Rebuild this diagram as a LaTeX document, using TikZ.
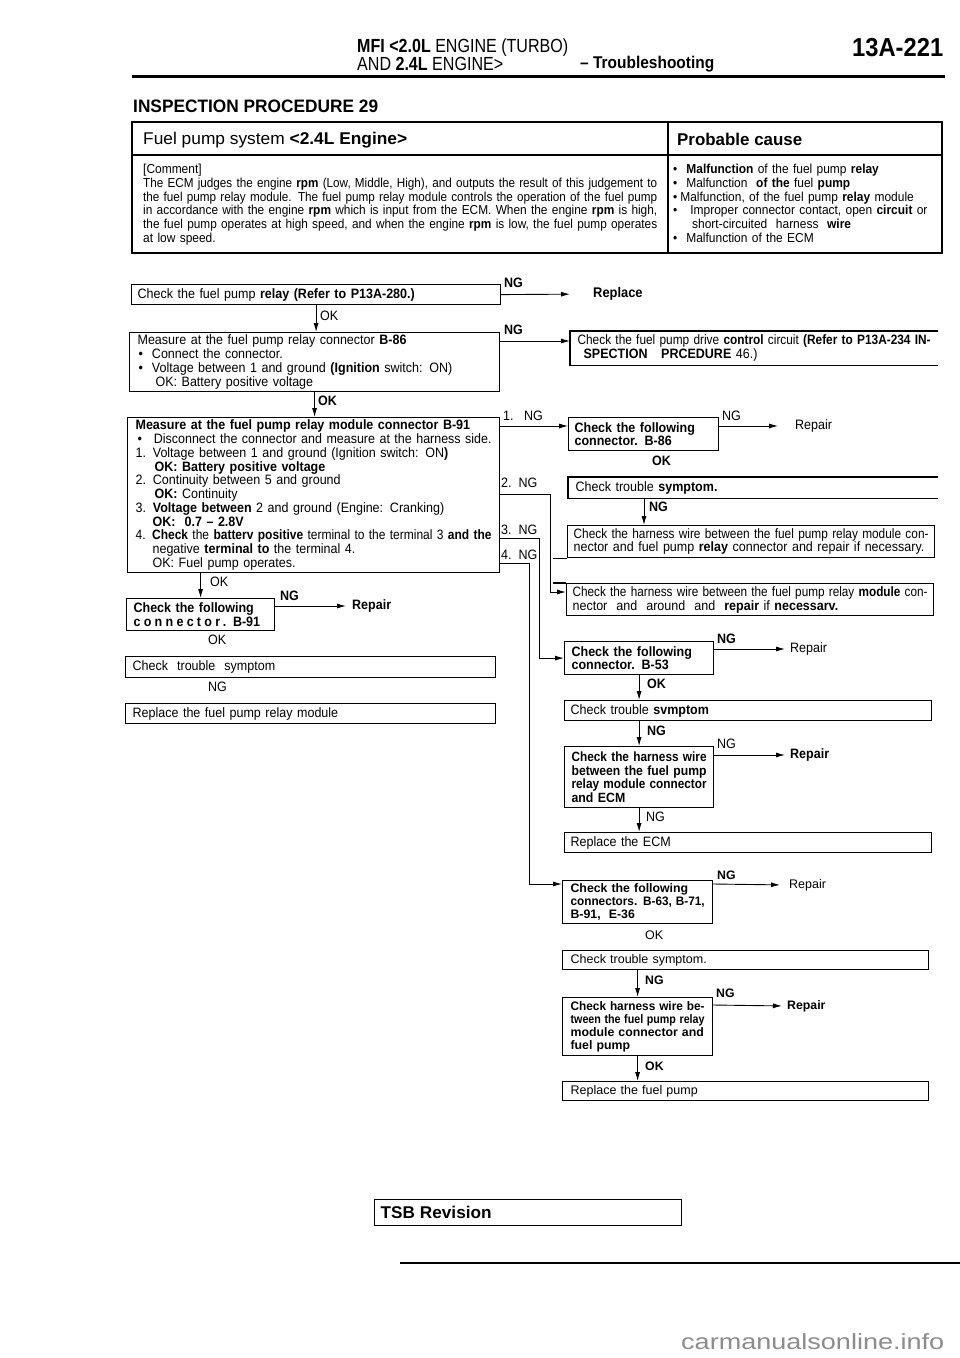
\documentclass[tikz,border=0pt]{standalone}
\usepackage{fontspec}
\usepackage{graphicx}
\setmainfont{Liberation Sans}[FakeStretch=0.92]
\newfontfamily\wideff{Liberation Sans}
\usetikzlibrary{arrows.meta}
\newsavebox\jbox
\newcommand\jl[1]{\sbox\jbox{#1}\ifdim\wd\jbox>\hsize\resizebox{\hsize}{\height}{#1}\else\makebox[\hsize][s]{#1}\fi}
\newcommand\fitw[2]{\resizebox{#1}{\height}{#2}}
\newcommand\bodyf{\fontsize{13.6}{13.75}\selectfont}
\newcommand\tabf{\fontsize{13}{13.75}\selectfont}
\newcommand\widef{\wideff\fontsize{12.5}{12.8}\selectfont}
\newcommand\widebf{\wideff\bfseries\fontsize{12.3}{12.9}\selectfont}
\begin{document}
\begin{tikzpicture}[x=1pt,y=-1pt,
  box/.style={draw, line width=1.2pt, anchor=north west, inner ysep=0pt, align=left, font=\bodyf,
    execute at begin node={\setlength{\parindent}{0pt}}},
  sz/.style n args={4}{minimum width=#1pt, minimum height=#2pt, inner xsep=#3pt, text width=#4pt},
  lbl/.style={anchor=west, inner sep=0pt, font=\bodyf},
  arr/.style={line width=0.9pt, -{Latex[length=9pt,width=5pt]}},
  rule/.style={line width=1.2pt}]
\fill[white] (0,0) rectangle (960,1358);
\useasboundingbox (0,0) rectangle (960,1358);

% ---------- header ----------
\node[anchor=west, inner sep=0pt] (h1) at (357,48) {\fitw{211pt}{\fontsize{19}{19}\selectfont\textbf{MFI <2.0L} ENGINE (TURBO)}};
\node[anchor=west, inner sep=0pt] (h2) at (357,64) {\fitw{146pt}{\fontsize{19}{19}\selectfont AND \textbf{2.4L} ENGINE>}};
\node[anchor=west, inner sep=0pt] (h3) at (580,64) {\fitw{134pt}{\fontsize{17}{17}\selectfont\bfseries – Troubleshooting}};
\node[anchor=west, inner sep=0pt] (h4) at (852,48) {\fitw{91pt}{\fontsize{26}{26}\selectfont\bfseries 13A-221}};
\draw[line width=3pt] (132,76) -- (945,76);
\node[anchor=west, inner sep=0pt] (ip) at (133,106) {\fitw{245pt}{\fontsize{18}{18}\selectfont\bfseries INSPECTION PROCEDURE 29}};

% ---------- table ----------
\draw[line width=1.8pt] (132,122) rectangle (942,253);
\draw[rule] (132,155) -- (942,155);
\draw[rule] (668,122) -- (668,253);
\node[anchor=west, inner sep=0pt] (tt) at (143,140) {\fitw{264pt}{\fontsize{17}{17}\selectfont Fuel pump system \textbf{<2.4L Engine>}}};
\node[anchor=west, inner sep=0pt] (pc) at (677,139) {\fitw{125pt}{\fontsize{17}{17}\selectfont\bfseries Probable cause}};
\node[anchor=north west, inner sep=0pt, text width=514pt, align=left, font=\tabf,
  execute at begin node={\setlength{\parindent}{0pt}}] (cmt) at (143,164) {%
[Comment]\\
\jl{The ECM judges the engine \textbf{rpm} (Low, Middle, High), and outputs the result of this judgement to}\\
\jl{the fuel pump relay module. The fuel pump relay module controls the operation of the fuel pump}\\
\jl{in accordance with the engine \textbf{rpm} which is input from the ECM. When the engine \textbf{rpm} is high,}\\
\jl{the fuel pump operates at high speed, and when the engine \textbf{rpm} is low, the fuel pump operates}\\
at low speed.};
\node[anchor=north west, inner sep=0pt, text width=261pt, align=left, font=\tabf,
  execute at begin node={\setlength{\parindent}{0pt}}] (cause) at (673,164) {%
\textbullet\hspace{9pt}\textbf{Malfunction} of the fuel pump \textbf{relay}\\
\textbullet\hspace{9pt}Malfunction\ \ \textbf{of the} fuel \textbf{pump}\\
\jl{\textbullet\hspace{3pt}Malfunction, of the fuel pump \textbf{relay} module}\\
\jl{\textbullet\hspace{13pt}Improper connector contact, open \textbf{circuit} or}\\
\hspace{19pt}short-circuited\ \ harness\ \ \textbf{wire}\\
\textbullet\hspace{9pt}Malfunction of the ECM};

% ---------- left column ----------
\node[box, sz={369}{20}{6}{357}] (b1) at (131,284) {Check the fuel pump \textbf{relay (Refer to P13A-280.)}};
\node[box, sz={370}{59}{8}{354}] (b2) at (129,332) {%
Measure at the fuel pump relay connector \textbf{B-86}\\
\hspace{1pt}\textbullet\hspace{9pt}Connect the connector.\\
\hspace{1pt}\textbullet\hspace{9pt}Voltage between 1 and ground \textbf{(Ignition} switch: ON)\\
\hspace{18pt}OK: Battery positive voltage};
\node[box, sz={372}{155}{8}{356}] (b3) at (127,417) {%
\textbf{Measure at the fuel pump relay module connector B-91}\\
\jl{\hspace{2pt}\textbullet\hspace{12pt}Disconnect the connector and measure at the harness side.}\\
1. Voltage between 1 and ground (Ignition switch: ON\textbf{)}\\
\hspace{19pt}\textbf{OK: Battery positive voltage}\\
2. Continuity between 5 and ground\\
\hspace{19pt}\textbf{OK:} Continuity\\
3. \textbf{Voltage between} 2 and ground (Engine: Cranking)\\
\hspace{17pt}\textbf{OK:\ \ 0.7 – 2.8V}\\
\jl{4. \textbf{Check} the \textbf{batterv positive} terminal to the terminal 3 \textbf{and the}}\\
\hspace{17pt}negative \textbf{terminal to} the terminal 4.\\
\hspace{17pt}OK: Fuel pump operates.};
\node[box, sz={148}{32}{7}{134}, font=\bodyf\bfseries] (c91) at (126,598) {%
\jl{Check the following}\\{\addfontfeatures{LetterSpace=24}connector.} B-91};
\node[box, sz={370}{21}{7}{356}] (ts2) at (125,656) {Check\ \ trouble\ \ symptom};
\node[box, sz={370}{20}{7}{356}] (rp1) at (125,703) {Replace the fuel pump relay module};

% ---------- right column ----------
\node[box, draw=none, sz={367}{33}{7}{353}] (drv) at (570,331) {%
\jl{Check the fuel pump drive \textbf{control} circuit \textbf{(Refer to P13A-234 IN-}}\\
\hspace{6pt}\textbf{SPECTION\ \ \ PRCEDURE} 46.)};
\draw[line width=1.2pt] (drv.north east) -- (drv.north west) -- (drv.south west) -- (drv.south east);
\node[box, sz={150}{33}{6}{138}, font=\bodyf\bfseries] (c86) at (568,417) {%
\jl{Check the following}\\connector. B-86};
\node[box, draw=none, sz={369}{20}{7}{355}] (ts1) at (568,477) {Check trouble \textbf{symptom.}};
\draw[line width=1.2pt] (ts1.north east) -- (ts1.north west) -- (ts1.south west) -- (ts1.south east);
\node[box, sz={367}{32}{6}{355}] (hw1) at (567,525) {%
\jl{Check the harness wire between the fuel pump relay module con-}\\
\jl{nector and fuel pump \textbf{relay} connector and repair if necessary.}};
\draw[line width=1.2pt] ([xshift=-14pt]hw1.south west) -- (hw1.south west);
\node[box, sz={367}{32}{6}{355}] (hw2) at (566,583) {%
\jl{Check the harness wire between the fuel pump relay \textbf{module} con-}\\
nector\ \ and\ \ around\ \ and\ \ \textbf{repair} if \textbf{necessarv.}};
\draw[line width=1.2pt] ([xshift=-13pt]hw2.north west) -- (hw2.north west);
\node[box, sz={149}{33}{7}{135}, font=\bodyf\bfseries] (c53) at (564,641) {%
\jl{Check the following}\\connector. B-53};
\node[box, sz={367}{20}{6}{355}] (ts3) at (564,700) {Check trouble \textbf{svmptom}};
\node[box, sz={149}{61}{7}{135}, font=\fontsize{13.4}{13.4}\selectfont\bfseries] (hwe) at (564,746) {%
\jl{Check the harness wire}\\\jl{between the fuel pump}\\\jl{relay module connector}\\and ECM};
\node[box, sz={367}{20}{6}{355}] (recm) at (564,832) {Replace the ECM};
\node[box, sz={150}{43}{8}{134}, font=\widebf] (c63) at (562,880) {%
\jl{Check the following}\\\jl{connectors. B-63, B-71,}\\B-91,\ \ E-36};
\node[box, sz={366}{19}{8}{350}, font=\widef] (ts4) at (562,950) {Check trouble symptom.};
\node[box, sz={150}{58}{8}{134}, font=\widebf] (hwp) at (562,997) {%
\jl{Check harness wire be-}\\\jl{tween the fuel pump relay}\\\jl{module connector and}\\fuel pump};
\node[box, sz={366}{19}{8}{350}, font=\widef] (rfp) at (562,1081) {Replace the fuel pump};

% ---------- labels ----------
\node[lbl, font=\bodyf\bfseries] (ng1) at (504,283) {NG};
\node[lbl, font=\fontsize{14}{14}\selectfont\bfseries] (rpl) at (593,294) {Replace};
\node[lbl] (ok1) at (320,316) {OK};
\node[lbl, font=\bodyf\bfseries] (ng2) at (504,330) {NG};
\node[lbl, font=\bodyf\bfseries] (ok2) at (318,401) {OK};
\node[lbl] (n1) at (503,416) {1.\ \ \ NG};
\node[lbl] (n2) at (501,483) {2.\ \ NG};
\node[lbl] (n3) at (501,530) {3.\ \ NG};
\node[lbl] (n4) at (501,555) {4.\ \ NG};
\node[lbl] (ng86) at (722,416) {NG};
\node[lbl] (r86) at (795,426) {Repair};
\node[lbl, font=\bodyf\bfseries] (ok86) at (652,461) {OK};
\node[lbl, font=\bodyf\bfseries] (ngts1) at (649,507) {NG};
\node[lbl] (ok3) at (210,582) {OK};
\node[lbl, font=\bodyf\bfseries] (ng91) at (280,596) {NG};
\node[lbl, font=\bodyf\bfseries] (r91) at (352,606) {Repair};
\node[lbl] (ok91) at (208,640) {OK};
\node[lbl] (ngts2) at (208,687) {NG};
\node[lbl, font=\bodyf\bfseries] (ng53) at (717,639) {NG};
\node[lbl] (r53) at (790,649) {Repair};
\node[lbl, font=\bodyf\bfseries] (ok53) at (647,684) {OK};
\node[lbl, font=\bodyf\bfseries] (ngts3) at (647,731) {NG};
\node[lbl] (nghwe) at (717,744) {NG};
\node[lbl, font=\bodyf\bfseries] (rhwe) at (790,755) {Repair};
\node[lbl] (nghwe2) at (646,817) {NG};
\node[lbl, font=\widebf] (ng63) at (717,875) {NG};
\node[lbl, font=\widef] (r63) at (789,885) {Repair};
\node[lbl, font=\widef] (ok63) at (645,935) {OK};
\node[lbl, font=\widebf] (ngts4) at (645,980) {NG};
\node[lbl, font=\widebf] (nghwp) at (716,993) {NG};
\node[lbl, font=\widebf] (rhwp) at (787,1006) {Repair};
\node[lbl, font=\widebf] (okhwp) at (645,1066) {OK};

% ---------- connectors ----------
\draw[arr, shorten >=23pt] (b1.east) -- (rpl.west);
\draw[arr] (b1.south) -- (b1.south |- b2.north);
\draw[arr] ([yshift=-9pt]b2.north east) -- ([yshift=-10pt]drv.north west);
\draw[arr] (b2.south) -- (b2.south |- b3.north);
\draw[arr] ([yshift=-9pt]b3.north east) -- ([yshift=-9pt]c86.north west);
\draw[arr, shorten >=17pt] ([yshift=-9pt]c86.north east) -- (r86.west);
\draw[arr] ([xshift=76pt]ts1.south west) -- ([xshift=76pt]ts1.south west |- hw1.north);
\draw[arr] ([yshift=-77pt]b3.north east) -- ++(50,0) |- ([yshift=-9pt]hw2.north west);
\draw[arr] ([yshift=-121pt]b3.north east) -- ++(39,0) |- (c53.west);
\draw[arr] ([yshift=-146pt]b3.north east) -- ++(29,0) |- ([yshift=-4pt]c63.north west);
\draw[arr] (c91.north |- b3.south) -- (c91.north);
\draw[arr, shorten >=6pt] ([yshift=-8pt]c91.north east) -- (r91.west);
\draw[arr, shorten >=5pt] ([yshift=-8pt]c53.north east) -- (r53.west);
\draw[arr] (c53.south) -- (c53.south |- ts3.north);
\draw[arr] (hwe.north |- ts3.south) -- (hwe.north);
\draw[arr, shorten >=5pt] ([yshift=-9pt]hwe.north east) -- (rhwe.west);
\draw[arr] (hwe.south) -- (hwe.south |- recm.north);
\draw[arr, shorten >=9pt] ([yshift=-4pt]c63.north east) -- (r63.west);
\draw[arr] (hwp.north |- ts4.south) -- (hwp.north);
\draw[arr, shorten >=5pt] ([yshift=-8pt]hwp.north east) -- (rhwp.west);
\draw[arr] (hwp.south) -- (hwp.south |- rfp.north);

% ---------- footer ----------
\node[box, sz={307}{26}{6}{295}] (tsb) at (374,1199) {\fitw{111pt}{\fontsize{17}{17}\selectfont\bfseries TSB Revision}};
\draw[line width=1.3pt] (400,1263) -- (960,1263);
\node[anchor=west, inner sep=0pt, text=black!45] (wm) at (681,1342) {\fitw{263pt}{\fontsize{22}{22}\selectfont carmanualsonline.info}};
\end{tikzpicture}
\end{document}
